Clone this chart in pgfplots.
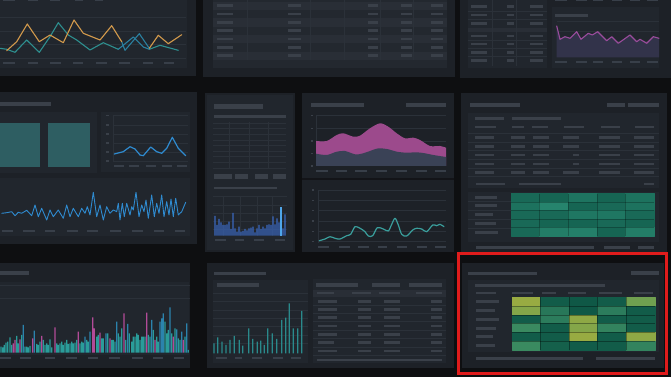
\documentclass[border=0pt]{standalone}
\usepackage{pgfplots}
\pgfplotsset{compat=1.18}
\definecolor{bgc}{HTML}{0E0F11}
\definecolor{card}{HTML}{1D2127}
\definecolor{inner}{HTML}{21262D}
\definecolor{stripeA}{HTML}{292E36}
\definecolor{stripeB}{HTML}{23282F}
\definecolor{txt}{HTML}{3A4049}
\definecolor{dashc}{HTML}{383F49}
\definecolor{gridc}{HTML}{2B3139}
\definecolor{orangeL}{HTML}{D39A4C}
\definecolor{tealL}{HTML}{2E8F8F}
\definecolor{blueL}{HTML}{2A80A0}
\definecolor{purpleL}{HTML}{9A4C9C}
\definecolor{purpleF}{HTML}{32334A}
\definecolor{tealsq}{HTML}{2E5E62}
\definecolor{blueline}{HTML}{2F8BD0}
\definecolor{bluebar}{HTML}{3A68BE}
\definecolor{bluebright}{HTML}{4FA6EA}
\definecolor{pinkA}{HTML}{9C4A8C}
\definecolor{darkA}{HTML}{3A4256}
\definecolor{tealline}{HTML}{3A9E9C}
\definecolor{barteal}{HTML}{2A9C9A}
\definecolor{barblue}{HTML}{2B83AD}
\definecolor{barpink}{HTML}{B24B98}
\definecolor{barteal2}{HTML}{2A8A8C}
\definecolor{redc}{HTML}{E01C1C}
\newcommand\T[4][2.6]{\fill[txt] (#2,{#4-#1/2}) rectangle (#3,{#4+#1/2});}
\newcommand\D[3]{\fill[dashc] (#1,{#3-1}) rectangle (#2,{#3+1});}
\pgfplotsset{panel/.style={scale only axis, anchor=south west, axis line style={draw=none},
  major tick length=0pt, xtick=\empty, ytick=\empty, xticklabels={}, yticklabels={},
  ymajorgrids, grid style={draw=gridc, line width=0.5pt}, clip=false,
  every axis plot/.append style={line join=round, line cap=round}}}
\begin{document}
\begin{tikzpicture}[x=1pt,y=1pt]
\useasboundingbox (0pt,0pt) rectangle (671pt,377pt);
\begin{scope}[shift={(0pt,377pt)},yscale=-1]
\fill[bgc] (0,0) rectangle (671,377);
% ---------- Row 1 ----------
\fill[card] (0,0) rectangle (196,76);
\fill[inner] (0,0) rectangle (187,68);
\foreach \a/\b in {3/15,28/38,50/61,73/83,96/107,119/130,143/153,164/174}{\D{\a}{\b}{63}}
\foreach \a/\b in {3/15,28/38,50/60,75/83,95/103}{\fill[dashc] (\a,0) rectangle (\b,1.5);}
% P2 table
\fill[card] (203,0) rectangle (455,77);
\fill[stripeB] (213,0) rectangle (447,68.3);
\foreach \y in {0,16.7,33.3,50}{\fill[stripeA] (213,{\y+1.7}) rectangle (447,{\y+10});}
\foreach \x in {247.7,310,344,380,413.3}{\draw[gridc,line width=0.6pt] (\x,0) -- (\x,60);}
\foreach \y in {5.7,14,22.3,30.7,39,47.3,55.7}{\T{217}{233}{\y}\T{288}{301}{\y}\T{368}{378}{\y}\T{401}{412}{\y}\T{431}{443}{\y}}
% P3
\fill[card] (460,0) rectangle (671,78);
\fill[inner] (468,0) rectangle (547,68);
\fill[stripeA] (468,28) rectangle (547,32);
\foreach \y in {11,19,40,48,56.3}{\draw[gridc,line width=0.5pt] (468,\y) -- (547,\y);}
\foreach \x in {492.7,516}{\draw[gridc,line width=0.5pt] (\x,0) -- (\x,66);}
\foreach \y in {6.7,15,23.3,36,44,52.3,60.3}{\T{471}{487}{\y}\T{507}{514}{\y}\T{530}{543}{\y}}
\fill[inner] (551.7,7.3) rectangle (659,68);
\T[3]{555}{588}{15.3}
\foreach \a/\b in {555/566.7,575.7/586.7,593.3/603.3,611.7/621.7,630/640,646.7/657.7}{\D{\a}{\b}{62.3}\fill[dashc] (\a,0) rectangle (\b,1.5);}
% ---------- Row 2 ----------
\fill[card] (0,92) rectangle (197,244);
\T[4]{0}{51}{104}
\fill[inner] (0,112) rectangle (97,173);
\fill[inner] (101,112) rectangle (190,172);
\fill[inner] (0,178) rectangle (190,236);
\fill[tealsq] (0,123.3) rectangle (40,166.7);
\fill[tealsq] (47.7,123.3) rectangle (90,166.7);
\foreach \y in {115.7,124.8,133.9,142.9,152,161}{\T[1.6]{105.5}{108.5}{\y}}
\draw[gridc,line width=0.6pt] (113.3,115) -- (113.3,162);
\foreach \a/\b in {114/124,129/139,146/156,162/172,177/187}{\D{\a}{\b}{166}}
\foreach \a/\b in {1.7/12.7,23.3/35,45/55,66.7/77.7,87.3/98.3,110/121,131.7/143.3,154/164,175/185}{\D{\a}{\b}{230.7}}
% P5
\fill[card] (205,93) rectangle (295,252);
\fill[inner] (207,95) rectangle (293,250);
\T[4.5]{214}{263}{106.5}
\T[2.6]{214}{286}{116.5}
\foreach \y in {123.3,128.3,134.3,140,145.7,151,156.7,162.3,168.3}{\draw[gridc,line width=0.5pt] (213,\y) -- (286,\y);}
\foreach \x in {229.3,249,268.3}{\draw[gridc,line width=0.5pt] (\x,121.7) -- (\x,168.3);}
\foreach \a/\b in {214/231.7,235/248.3,255/268.3,273.3/286}{\fill[txt] (\a,174) rectangle (\b,179);}
\T[2.6]{214}{276.7}{188}
\foreach \a/\b in {215/226,235/244,254.3/264,275/285}{\D{\a}{\b}{240}}
% P6
\fill[card] (302,93) rectangle (454,252);
\draw[bgc!70!card,line width=1.5pt] (302,179) -- (454,179);
\T[3.4]{310.7}{364}{105}
\T[3.4]{406}{446}{105}
\foreach \y in {115.7,128.3,141,153.3,166}{\T[1.3]{310.5}{313}{\y}}
\draw[gridc,line width=0.6pt] (316,115.7) -- (316,166);
\foreach \a/\b in {316/328,336/347,355/367,376/387,396/407,416/427,435/446}{\D{\a}{\b}{171}}
\foreach \y in {190,200.3,210.7,221,231.3,241.7}{\T[1.3]{311.5}{314}{\y}}
\draw[gridc,line width=0.6pt] (318.3,190) -- (318.3,243);
\foreach \a/\b in {318/329,339/350,358/369,378/387,397/407,417/427,435/446}{\D{\a}{\b}{247.3}}
% P7
\fill[card] (461,93) rectangle (667,252);
\T[3.4]{470}{520}{105}
\T[3.4]{606.7}{625}{105}
\T[3.4]{628}{659}{105}
\fill[inner] (468,113) rectangle (659,188);
\T[3]{475}{504}{119}
\T[3]{511.7}{561}{119}
\foreach \a/\b in {475/496,511.7/524,531.7/548,564/584,601/620,635/654}{\T[2.4]{\a}{\b}{127}}
\foreach \y in {133,142,150.7,159.5,168,176.5}{\draw[gridc,line width=0.5pt] (468,\y) -- (659,\y);}
\foreach \y in {137.7,146.3,172.3}{\T{475}{494}{\y}\T{511}{525}{\y}\T{533}{549}{\y}\T{563}{579}{\y}\T{599}{620}{\y}\T{634}{654}{\y}}
\foreach \y in {155,164}{\T{475}{494}{\y}\T{511}{525}{\y}\T{533}{549}{\y}\T{573}{579}{\y}\T{599}{620}{\y}\T{634}{654}{\y}}
\T{475.7}{505}{184}\T{519}{561}{184}\T{644}{654}{184}
\fill[inner] (468,191.7) rectangle (659,241.7);
\T[3]{475}{497}{197.3}\T[3]{475}{497}{205.7}\T[3]{475}{492.7}{214.3}\T[3]{475}{496}{223.3}\T[3]{475}{497.7}{232.3}
\foreach \y in {201.5,210,219,228}{\draw[gridc,line width=0.5pt] (468,\y) -- (511,\y);}
\T{475.7}{594}{247.3}\T{604}{630}{247.3}\T{638}{654}{247.3}
% ---------- Row 3 ----------
\fill[card] (0,263) rectangle (190,368);
\T[4]{0}{29}{273}
\fill[inner] (0,282) rectangle (189,355);
\foreach \a/\b in {0/11,20/31,45/55,66/77,88/98,109/120,132/143,153/163,174/184}{\D{\a}{\b}{358.3}}
% P9
\fill[card] (206.7,263.3) rectangle (454,368.3);
\T[3.4]{214}{266}{273.3}
\fill[inner] (213.3,280) rectangle (308.3,363.3);
\T[3.4]{216.7}{259.3}{285}
\foreach \a/\b in {216/226.7,235/242.3,252.3/262.3,272.7/283.3,291/300.7}{\D{\a}{\b}{358.3}}
\fill[inner] (313.3,279.3) rectangle (446,363.3);
\fill[stripeA] (313.3,290) rectangle (446,296.7);
\T[3.4]{316}{357.7}{285}\T[3.4]{372.3}{400}{285}\T[3.4]{409}{441.7}{285}
\foreach \a/\b in {317.3/334,351.7/370.7,379.3/400,416/441.7}{\T[2.2]{\a}{\b}{293.3}}
\foreach \y in {305.5,313.3,321.7,330,338.5,346.8,355}{\draw[gridc,line width=0.5pt] (313.3,\y) -- (446,\y);}
\foreach \y in {301.7,309.3,317.3,326,334.3,351}{\T{317.7}{336.7}{\y}\T{358.3}{370.7}{\y}\T{384.3}{400}{\y}\T{430.7}{442.3}{\y}}
\T{317.7}{334}{342.7}\T{358.3}{370.7}{342.7}\T{384.3}{400}{342.7}\T{430.7}{442.3}{342.7}
\T{317.3}{441.7}{360}
% P10
\fill[card] (462.3,262.7) rectangle (664.3,368.3);
\T[3.4]{468.3}{536.7}{273.3}
\T[3.4]{631}{659}{273}
\fill[inner] (468.3,280) rectangle (659,351.7);
\T[2.6]{475}{605}{285.3}
\foreach \a/\b in {475.7/496,511.7/532.7,542.3/555.7,568.3/586,599/621.7,634/653.3}{\T[2.2]{\a}{\b}{293.3}}
\T[3]{475.7}{499.3}{301.7}\T[3]{475.7}{495}{310.7}\T[3]{475.7}{499.3}{319.3}\T[3]{475.7}{495.7}{328.3}\T[3]{475.7}{492.7}{336.7}\T[3]{475.7}{495}{346}
\T{475.7}{583.3}{358.3}\T{596}{655}{358.3}
\end{scope}
% ================= charts =================
% P1 lines
\begin{axis}[panel, at={(0pt,315pt)}, width=186pt, height=52pt, xmin=0, xmax=186, ymin=10, ymax=62, y dir=reverse, ytick={17,31,44,58}]
\addplot[tealL, line width=1.1pt] coordinates {(0,48.3)(6.7,49.3)(15,52.3)(26.7,40)(39.3,52.3)(50,36.7)(58.3,22.7)(68.3,35)(76.7,40)(90,50)(103.3,42.7)(118.3,49.3)};
\addplot[tealL, line width=1.1pt] coordinates {(149.3,49.3)(160,45.3)(178.3,50.3)};
\addplot[blueL, line width=1.1pt] coordinates {(118.3,49.3)(133.3,37)(143.3,47)(149.3,49.3)};
\addplot[blueL, line width=1.1pt] coordinates {(121.7,41.7)(125,50.3)(139.3,33.7)(149.3,48.3)};
\addplot[orangeL, line width=1.1pt] coordinates {(6.7,50.7)(16.7,41.7)(27.3,24)(39.3,41.7)(50,35)(63.3,42.7)(74,20)(83.3,33.3)(100,40)(111.7,25.7)(121.7,41.7)};
\addplot[orangeL, line width=1.1pt] coordinates {(149.3,48.3)(158.3,35.3)(168.3,43.7)(181.7,34.7)};
\end{axis}
% P3 purple
\begin{axis}[panel, at={(556.7pt,319.7pt)}, width=102.3pt, height=37pt, xmin=556.7, xmax=659, ymin=0, ymax=37, ytick={7.3,15.6,25.6,35.6}]
\addplot[fill=purpleF, draw=none] coordinates {(556.7,31.3)(560,18)(565,20.6)(570,19)(576.7,25.6)(581,18)(588.3,24)(592.3,22.3)(597.7,25.6)(606.7,16.6)(611.7,20.6)(618.3,14)(630,22.3)(636.7,15.6)(640,18)(646.7,14)(653.3,20.6)(659,19)} \closedcycle;
\addplot[purpleL, line width=1.1pt] coordinates {(556.7,31.3)(560,18)(565,20.6)(570,19)(576.7,25.6)(581,18)(588.3,24)(592.3,22.3)(597.7,25.6)(606.7,16.6)(611.7,20.6)(618.3,14)(630,22.3)(636.7,15.6)(640,18)(646.7,14)(653.3,20.6)(659,19)};
\end{axis}
% P4 small line
\begin{axis}[panel, at={(113.3pt,215pt)}, width=74.7pt, height=48pt, xmin=113.3, xmax=188, ymin=114, ymax=162, y dir=reverse, ytick={115.7,124.8,133.9,142.9,152,161}]
\addplot[blueline, line width=1.2pt] coordinates {(114.3,154)(123.3,151.7)(130,146.7)(135,149)(140,155)(143.3,155.7)(150.7,147)(156.7,151.7)(161.7,153.3)(166.7,148.3)(172.3,137.3)(178.3,148.3)(185.7,155.7)};
\end{axis}
% P4 noisy line
\begin{axis}[panel, ymajorgrids=false, at={(0pt,153pt)}, width=188pt, height=36pt, xmin=0, xmax=188, ymin=188, ymax=224, y dir=reverse]
\addplot[blueline, line width=0.9pt] coordinates {(1.7,213.3)(6.7,212.7)(11.7,211.7)(15,215.7)(18.3,212.3)(21.7,213.3)(26.7,210.3)(31.7,215.7)(35,205)(38.3,216.7)(41.7,208.3)(46.7,220)(50,210)(53.3,216.7)(58.3,210)(63.3,218.3)(66.7,205)(70,216.7)(73.3,208.3)(78.3,216.7)(81.7,208.3)(85,213.3)(87.3,206.7)(90,215)(93.3,192.3)(96.7,216.7)(100,205)(103.3,220)(106.7,206.7)(110,213.3)(113.3,210)(116.7,211.7)(118.3,203.3)(120,220)(122.3,203.3)(124.3,216.7)(126.7,203.3)(130,215)(131.7,206.7)(133.3,210)(136,192.3)(139,216.7)(141.7,205)(144,211.7)(146,200)(148.3,218.3)(151.7,195)(154.3,216.7)(156.7,203.3)(159,213.3)(161.7,195)(164,216.7)(166.7,201.7)(169,215)(171,199)(173.3,216.7)(175.7,198.3)(178.3,215)(181.7,211.7)(185.7,202.3)};
\end{axis}
% P5 bars
\begin{axis}[panel, at={(213pt,141.3pt)}, width=74pt, height=39pt, xmin=213, xmax=287, ymin=0, ymax=39, ytick={6.7,14,22.4,30.7,39}, xmajorgrids, xtick={223.3,240,257.3,272.3}]
\addplot[ybar, bar shift=0pt, bar width=1.3pt, fill=bluebar, draw=none] coordinates {(215,19.7)(217,10.7)(219,16.7)(221,13.4)(223,10.7)(225,10.7)(227,11.4)(229,14)(231,6.7)(233,22.7)(235,7.4)(237,4)(239,9)(241,4)(243,4.7)(245,6.7)(247,5.4)(249,7.4)(251,8)(253,9)(255,3.4)(257,7.4)(259,10.7)(261,6.7)(263,9)(265,7.4)(267,10.7)(269,11.4)(271,10.7)(273,19.4)(275,11.4)(277,17.4)(279,13.4)(283,7.4)(285,21.4)};
\addplot[ybar, bar shift=0pt, bar width=1.3pt, fill=bluebright, draw=none] coordinates {(281,28.7)};
\end{axis}
% P6 area
\begin{axis}[panel, at={(316pt,211pt)}, width=130pt, height=50.3pt, xmin=316, xmax=446, ymin=0, ymax=50.3, ytick={12.7,25,37.7,50.3}]
\addplot[smooth, fill=pinkA, draw=none] coordinates {(316,25)(326.7,25)(336.7,31)(343.3,32.7)(353.3,29.3)(360,30.3)(370,37.7)(380,42.7)(388.3,39.3)(396.7,32.7)(405,27.7)(413.3,28.3)(420,26)(430,20)(440,20)(446,18.3)} \closedcycle;
\addplot[smooth, fill=darkA, draw=none] coordinates {(316,12.3)(326.7,11)(336.7,14.3)(345,15)(355,11.7)(361.7,12.3)(370,15)(378.3,17.7)(388.3,16.7)(396.7,14.3)(406.7,13.3)(416.7,13.7)(425,12.7)(433.3,11)(446,9)} \closedcycle;
\end{axis}
% P6 line
\begin{axis}[panel, at={(318.3pt,134pt)}, width=127.7pt, height=55pt, xmin=318.3, xmax=446, ymin=188, ymax=243, y dir=reverse, ytick={190,200.3,210.7,221,231.3,241.7}]
\addplot[smooth, tealline, line width=1.2pt] coordinates {(319.3,240.7)(325,239)(330,236.7)(335,238.3)(340,239)(346.7,235.7)(350.7,234.3)(355,226.7)(360,228.3)(365,231.7)(368.3,236)(372.7,235.7)(377.3,227.7)(383.3,229)(388.3,231)(391.7,224.3)(395,218.3)(398.3,225)(401.7,234.3)(406.7,236)(412.7,230)(416.7,228.3)(421.7,229)(426.7,231.7)(432.7,225)(436.7,225.7)(440,224.3)(444,226.7)};
\end{axis}
% P8 bars
\begin{axis}[panel, at={(0pt,24.3pt)}, width=190pt, height=67.7pt, xmin=0, xmax=190, ymin=0, ymax=67.7, ytick={54.4,67.7}]
\addplot[ybar, bar shift=0pt, bar width=1.3pt, fill=barteal, draw=none] coordinates {(1,6)(2.7,5.3)(4.3,7.7)(6,10)(7.7,11)(10,15.3)(11.7,7.7)(16.7,16.7)(18.3,9.3)(21.7,17.7)(25,6)(26.7,6)(28.3,5.3)(30,6.7)(36.7,8.7)(38.3,7.7)(40,11)(43.3,12.7)(45,7.7)(46.7,9.3)(48.3,7.7)(50,13.3)(51.7,5.3)(56.7,9.3)(58.3,7.7)(60,9.3)(61.7,11)(63.3,7.7)(65,10)(66.7,12.7)(68.3,8.7)(70,9.3)(71.7,11)(73.3,9.3)(75,10)(76.7,12.7)(80,9.3)(81.7,11)(83.3,10)(86.7,12.7)(88.3,11)(96.7,16)(98.3,17.7)(101.7,14.3)(103.3,14.3)(107.7,19.3)(111.7,12.7)(113.3,12.7)(115,11)(118.3,19.3)(120,16)(121.7,24.3)(125.7,12.7)(129.3,19.3)(131.7,11)(133.3,16)(135,16)(136.7,19.3)(138.3,17.7)(140,12.7)(141.7,16)(143.3,16)(145,16)(148.3,17.7)(150,16)(153.3,22.7)(156.7,16)(158.3,11)(165,31)(166.7,19.3)(168.3,22.7)(171.7,19.3)(175,24.3)(178.3,14.3)(180,12.7)(185,16)(188.3,2.7)};
\addplot[ybar, bar shift=0pt, bar width=1.3pt, fill=barblue, draw=none] coordinates {(23.3,27.7)(34.3,22)(85,16)(90,21)(106,19.3)(116.7,31)(127.7,28.7)(151.7,32.7)(160,31)(161.7,34.3)(163.3,39.3)(170,45.3)(176.7,23.3)(181.7,21)(186.7,29.3)};
\addplot[ybar, bar shift=0pt, bar width=1.3pt, fill=barpink, draw=none] coordinates {(13.3,9.3)(15,12.7)(20,13.3)(32.7,14.3)(41.7,16.7)(55,25.3)(78.3,21)(92.7,35.3)(94.3,24.3)(100,20)(110,14.3)(124,39.3)(146.7,40)(155,12.7)(173.3,16)(183.3,12.7)};
\end{axis}
% P9 bars
\begin{axis}[panel, at={(213.3pt,23.7pt)}, width=95pt, height=60pt, xmin=213.3, xmax=308.3, ymin=0, ymax=60, ytick={10,18.3,26.6,35,43.3,51.6,60}]
\addplot[ybar, bar shift=0pt, bar width=1.3pt, fill=barteal2, draw=none] coordinates {(214,10)(217.7,16)(222,11.6)(226,8.3)(230,13.3)(234.3,17.3)(239.3,13.3)(242.7,7.6)(248.7,25)(252.7,14.3)(257.3,11.6)(260.7,12.6)(264.3,8.3)(267.7,25)(272.3,20)(276.7,14.3)(281.7,33.3)(285.7,35.6)(289.3,50)(293.3,25)(297.7,25)(301.7,42.3)};
\end{axis}
% Heatmap G
\begin{axis}[panel, at={(511pt,141pt)}, width=143.3pt, height=42.3pt, xmin=-0.5, xmax=4.5, ymin=-0.5, ymax=4.5, y dir=reverse, axis on top, xmajorgrids, ymajorgrids, xtick={0.5,1.5,2.5,3.5}, ytick={0.5,1.5,2.5,3.5}, grid style={draw=black, line width=0.6pt, opacity=0.25},
  colormap={heatG}{rgb255(0cm)=(18,92,76) rgb255(1cm)=(40,136,112)}, point meta min=0, point meta max=1]
\addplot[matrix plot*, mesh/cols=5, point meta=explicit] table[meta=c] {
x y c
0 0 0.3
1 0 0.2
2 0 0.55
3 0 0.2
4 0 0.5
0 1 0.5
1 1 0.9
2 1 0.2
3 1 0.3
4 1 0.5
0 2 0.3
1 2 0.3
2 2 0.6
3 2 0.6
4 2 0.3
0 3 0.3
1 3 0.2
2 3 0.2
3 3 0.3
4 3 0.2
0 4 0.3
1 4 0.75
2 4 0.8
3 4 0.2
4 4 0.75
};
\end{axis}
% Heatmap J
\begin{axis}[panel, at={(511.7pt,27pt)}, width=143.3pt, height=52.7pt, xmin=-0.5, xmax=4.5, ymin=-0.5, ymax=5.5, y dir=reverse, axis on top, xmajorgrids, ymajorgrids, xtick={0.5,1.5,2.5,3.5}, ytick={0.5,1.5,2.5,3.5,4.5}, grid style={draw=black, line width=0.6pt, opacity=0.35},
  colormap={heatJ}{rgb255(0cm)=(12,84,68) rgb255(4cm)=(24,100,78) rgb255(9cm)=(44,124,92) rgb255(11cm)=(58,138,96) rgb255(15cm)=(112,160,80) rgb255(20cm)=(162,174,62)}, point meta min=0, point meta max=1]
\addplot[matrix plot*, mesh/cols=5, point meta=explicit] table[meta=c] {
x y c
0 0 0.95
1 0 0.1
2 0 0.05
3 0 0.1
4 0 0.75
0 1 0.85
1 1 0.4
2 1 0.05
3 1 0.45
4 1 0.1
0 2 0.1
1 2 0.45
2 2 0.9
3 2 0.1
4 2 0.1
0 3 0.55
1 3 0.1
2 3 0.85
3 3 0.5
4 3 0.1
0 4 0.1
1 4 0.1
2 4 0.95
3 4 0.1
4 4 0.9
0 5 0.55
1 5 0.15
2 5 0.1
3 5 0.1
4 5 0.5
};
\end{axis}
\begin{scope}[shift={(0pt,377pt)},yscale=-1]
\draw[redc, line width=3pt] (458,253.5) rectangle (666.3,373.7);
\end{scope}
\end{tikzpicture}
\end{document}
